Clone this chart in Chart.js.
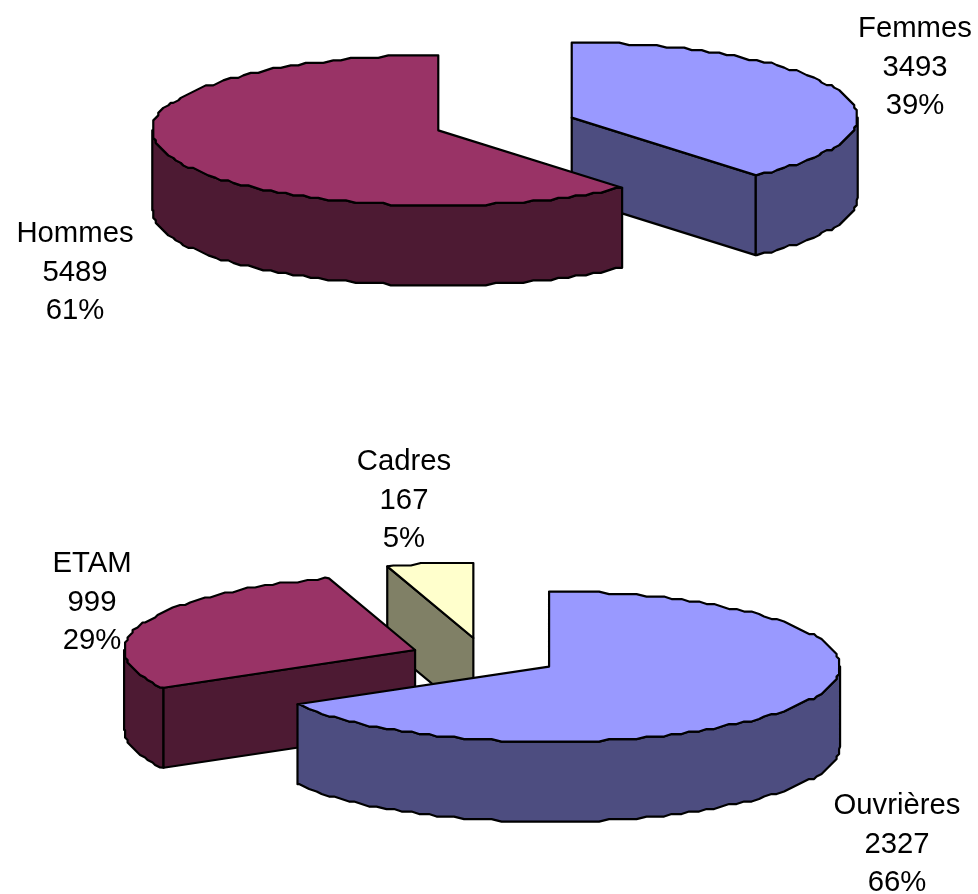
<!DOCTYPE html>
<html>
<head>
<meta charset="utf-8">
<title>Effectifs</title>
<script src="https://cdn.jsdelivr.net/npm/chart.js@4"></script>
<style>
    html, body { margin: 0; padding: 0; background: #fff; }
    canvas { position: absolute; left: 0; }
    #sexChart { top: 0; }
    #jobChart { top: 447px; }
</style>
</head>
<body>
<canvas id="sexChart" width="978" height="447"></canvas>
<canvas id="jobChart" width="978" height="447"></canvas>
<script>
// top pie
const sexLabels = ['Femmes', 'Hommes'];
const sexValues = [3493, 5489];
const sexPercents = ['39%', '61%'];

// bottom pie
const jobLabels = ['Ouvrières', 'ETAM', 'Cadres'];
const jobValues = [2327, 999, 167];
const jobPercents = ['66%', '29%', '5%'];

const LIGHT_BLUE = '#9999ff', DARK_BLUE = '#4d4d80';
const LIGHT_PLUM = '#993366', DARK_PLUM = '#4d1a33';
const LIGHT_CREAM = '#ffffcc', DARK_CREAM = '#808066';

const LABEL_FONT = '29.3px "Liberation Sans", Arial, sans-serif';
const LINE_HEIGHT = 38.5;
const RIM_GRID = 2.5; // the original outline is a coarse polyline, snap to get the same wobble
const RIM_STEP = 1 / 30;

function rimPoint(arc, center, a, squash, snap) {
    let dx = Math.cos(a) * arc.outerRadius;
    let dy = Math.sin(a) * arc.outerRadius * squash;
    if (snap) {
        dx = Math.round(dx / RIM_GRID) * RIM_GRID;
        dy = Math.round(dy / RIM_GRID) * RIM_GRID;
    }
    return [center.x + dx, center.y + dy];
}

// angles sit on a fixed step so a top and the wall under it wobble together
function rimPoints(arc, center, from, to, squash, drop) {
    const points = [rimPoint(arc, center, from, squash, false)];
    for (let k = Math.floor(from / RIM_STEP) + 1; k * RIM_STEP < to; k++) {
        points.push(rimPoint(arc, center, k * RIM_STEP, squash, true));
    }
    points.push(rimPoint(arc, center, to, squash, false));
    return points.map(p => [p[0], p[1] + drop]);
}

function tracePolygon(ctx, points, fill) {
    ctx.beginPath();
    points.forEach((p, i) => (i ? ctx.lineTo(p[0], p[1]) : ctx.moveTo(p[0], p[1])));
    ctx.closePath();
    ctx.fillStyle = fill;
    ctx.fill();
    ctx.stroke();
}

// Chart.js has no 3D pie: the arcs keep their computed angles and radius, this paints them tilted
const tiltedPie = {
    id: 'tiltedPie',
    beforeDatasetDraw(chart, args, opts) {
        const ctx = chart.ctx;
        const arcs = chart.getDatasetMeta(0).data.map((arc, i) => {
            const mid = (arc.startAngle + arc.endAngle) / 2;
            const off = arc.options.offset;
            return {
                arc, i,
                center: { x: arc.x + Math.cos(mid) * off, y: arc.y + Math.sin(mid) * off * opts.squash }
            };
        }).sort((a, b) => a.center.y - b.center.y);

        ctx.save();
        ctx.lineWidth = 2.2;
        ctx.lineJoin = 'round';
        ctx.strokeStyle = '#000';

        // walls first, back to front
        arcs.forEach(({ arc, i, center }) => {
            const wall = opts.wallColors[i];
            const rimFrom = Math.max(arc.startAngle, 0);
            const rimTo = Math.min(arc.endAngle, Math.PI);
            if (rimTo > rimFrom) {
                const top = rimPoints(arc, center, rimFrom, rimTo, opts.squash, 0);
                const bottom = rimPoints(arc, center, rimFrom, rimTo, opts.squash, opts.depth).reverse();
                tracePolygon(ctx, top.concat(bottom), wall);
            }
            [[arc.startAngle, Math.cos(arc.startAngle) < -1e-6], [arc.endAngle, Math.cos(arc.endAngle) > 1e-6]].forEach(([a, visible]) => {
                if (!visible) return;
                const edge = rimPoint(arc, center, a, opts.squash, false);
                tracePolygon(ctx, [
                    [center.x, center.y], edge,
                    [edge[0], edge[1] + opts.depth], [center.x, center.y + opts.depth]
                ], wall);
            });
        });

        // then the tops
        arcs.forEach(({ arc, center }) => {
            const rim = rimPoints(arc, center, arc.startAngle, arc.endAngle, opts.squash, 0);
            tracePolygon(ctx, [[center.x, center.y]].concat(rim), arc.options.backgroundColor);
        });
        ctx.restore();
        return false;
    },
    afterDatasetsDraw(chart, args, opts) {
        const ctx = chart.ctx;
        ctx.save();
        ctx.font = LABEL_FONT;
        ctx.fillStyle = '#000';
        ctx.textAlign = 'center';
        ctx.textBaseline = 'middle';
        chart.data.labels.forEach((label, i) => {
            const at = opts.labelAt[i];
            const lines = [label, String(chart.data.datasets[0].data[i]), opts.percents[i]];
            lines.forEach((line, n) => ctx.fillText(line, at[0], at[1] + n * LINE_HEIGHT));
        });
        ctx.restore();
    }
};

function makePie(id, labels, values, colors, cfg) {
    return new Chart(document.getElementById(id), {
        type: 'pie',
        data: {
            labels: labels,
            datasets: [{
                data: values,
                backgroundColor: colors,
                borderWidth: 0,
                offset: cfg.offset,
                clip: false
            }]
        },
        options: {
            responsive: false,
            animation: false,
            radius: cfg.radius,
            layout: { padding: cfg.padding },
            plugins: {
                legend: { display: false },
                tooltip: { enabled: false },
                tiltedPie: {
                    squash: cfg.squash,
                    depth: 80,
                    wallColors: cfg.wallColors,
                    percents: cfg.percents,
                    labelAt: cfg.labelAt
                }
            }
        },
        plugins: [tiltedPie]
    });
}

makePie('sexChart', sexLabels, sexValues, [LIGHT_BLUE, LIGHT_PLUM], {
    offset: 71,
    radius: 286,
    squash: 75 / 286,
    padding: { left: 32, bottom: 199 },
    wallColors: [DARK_BLUE, DARK_PLUM],
    percents: sexPercents,
    labelAt: [[915, 29], [75, 234]]
});

makePie('jobChart', jobLabels, jobValues, [LIGHT_BLUE, LIGHT_PLUM, LIGHT_CREAM], {
    offset: 74.5,
    radius: 291,
    squash: 75 / 291,
    padding: { right: 9, bottom: 27 },
    wallColors: [DARK_BLUE, DARK_PLUM, DARK_CREAM],
    percents: jobPercents,
    labelAt: [[897, 359], [92, 117], [404, 15]]
});
</script>
</body>
</html>
